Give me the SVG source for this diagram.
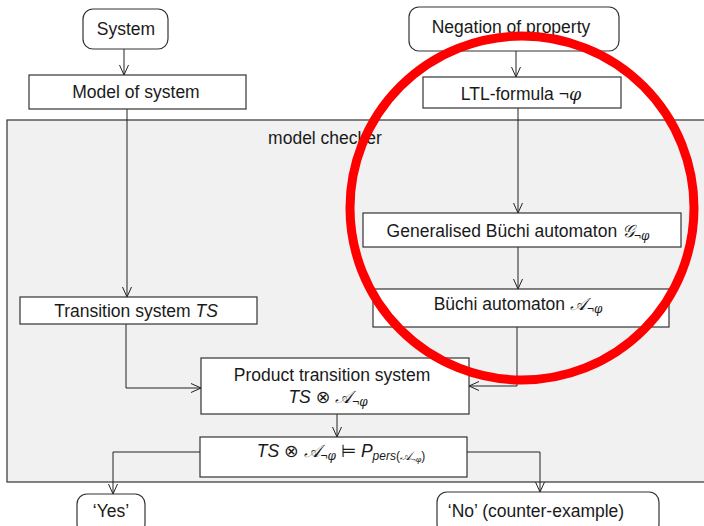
<svg xmlns="http://www.w3.org/2000/svg" width="704" height="526" viewBox="0 0 704 526">
<defs>
<marker id="arr" markerUnits="userSpaceOnUse" markerWidth="12" markerHeight="12" refX="10" refY="5" orient="auto">
<path d="M0,0.5 L10,5 L0,9.5" fill="none" stroke="#222" stroke-width="1"/>
</marker>
<style>
.box{fill:#fff;stroke:#333;stroke-width:1.2}
.t{font-family:"Liberation Sans","DejaVu Sans",sans-serif;font-size:17.5px;fill:#1a1a1a;text-anchor:middle}
.m{font-family:"DejaVu Serif","Liberation Serif",serif;font-style:italic}
.sub{font-size:12px}
.c{fill:none;stroke:#222;stroke-width:1;marker-end:url(#arr)}
</style>
</defs>
<rect width="704" height="526" fill="#fff"/>
<g id="modelchecker">
<rect x="7" y="120" width="710" height="362" fill="#f1f1f1" stroke="#333" stroke-width="1.2"/>
<text class="t" x="325" y="144">model checker</text>
</g>
<g id="connectors">
<path class="c" d="M124,49 V75"/>
<path class="c" d="M127,109 V297"/>
<path class="c" d="M516,51 V77"/>
<path class="c" d="M518,108 V213"/>
<path class="c" d="M518,247 V289"/>
<path class="c" d="M126,324 V388 H201"/>
<path class="c" d="M517,327 V386 H469"/>
<path class="c" d="M337,414 V437"/>
<path class="c" d="M200,452 H113 V494"/>
<path class="c" d="M467,452 H540 V492"/>
</g>
<g id="system">
<rect class="box" x="83" y="9" width="85" height="40" rx="10"/>
<text class="t" x="126" y="35">System</text>
</g>
<g id="model">
<rect class="box" x="29" y="75" width="217" height="34"/>
<text class="t" x="136" y="98">Model of system</text>
</g>
<g id="negation">
<rect class="box" x="409" y="7" width="210" height="44" rx="10"/>
<text class="t" x="511" y="33">Negation of property</text>
</g>
<g id="ltl">
<rect class="box" x="423" y="77" width="198" height="31"/>
<text class="t" x="521" y="100">LTL-formula ¬<tspan class="m">φ</tspan></text>
</g>
<g id="ts">
<rect class="box" x="20" y="297" width="237" height="27"/>
<text class="t" x="136" y="317">Transition system <tspan font-style="italic">TS</tspan></text>
</g>
<g id="gba">
<rect class="box" x="363" y="213" width="318" height="34"/>
<text class="t" x="518" y="237">Generalised Büchi automaton <tspan class="m">𝒢</tspan><tspan class="sub" dy="3">¬<tspan class="m">φ</tspan></tspan></text>
</g>
<g id="ba">
<rect class="box" x="373" y="289" width="296" height="38"/>
<text class="t" x="518" y="310">Büchi automaton <tspan class="m">𝒜</tspan><tspan class="sub" dy="3">¬<tspan class="m">φ</tspan></tspan></text>
</g>
<g id="product">
<rect class="box" x="201" y="358" width="268" height="56"/>
<text class="t" x="332" y="381">Product transition system</text>
<text class="t" x="328" y="403"><tspan font-style="italic">TS</tspan> ⊗ <tspan class="m">𝒜</tspan><tspan class="sub" dy="3">¬<tspan class="m">φ</tspan></tspan></text>
</g>
<g id="check">
<rect class="box" x="200" y="437" width="267" height="40"/>
<text class="t" x="341" y="457"><tspan font-style="italic">TS</tspan> ⊗ <tspan class="m">𝒜</tspan><tspan class="sub" dy="3">¬<tspan class="m">φ</tspan></tspan><tspan dy="-3"> ⊨ </tspan><tspan font-style="italic">P</tspan><tspan class="sub" dy="3"><tspan font-style="italic">pers</tspan>(<tspan class="m">𝒜</tspan><tspan font-size="8" dy="2">¬<tspan class="m">φ</tspan></tspan><tspan dy="-2">)</tspan></tspan></text>
</g>
<g id="yes">
<rect class="box" x="77" y="494" width="68" height="40" rx="10"/>
<text class="t" x="111" y="517">‘Yes’</text>
</g>
<g id="no">
<rect class="box" x="437" y="492" width="222" height="42" rx="10"/>
<text class="t" x="536" y="517">‘No’ (counter-example)</text>
</g>
<circle cx="522" cy="208" r="172" fill="none" stroke="#ff0000" stroke-width="9"/>
</svg>
